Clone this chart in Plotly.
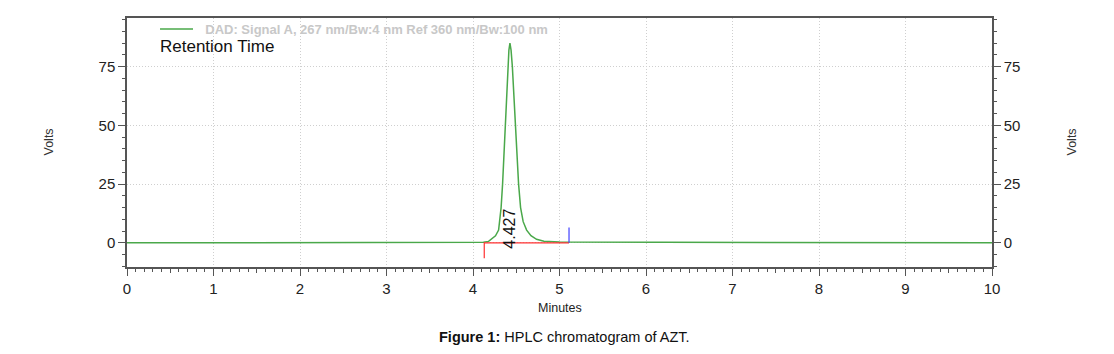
import plotly.graph_objects as go

# ---- data ----
time_min = [0.0, 1.5, 2.1, 4.0, 4.12, 4.18, 4.215, 4.26, 4.296, 4.31, 4.325, 4.342, 4.358,
            4.374, 4.393, 4.404, 4.415, 4.427, 4.44, 4.455, 4.469, 4.489, 4.507, 4.527,
            4.55, 4.58, 4.62, 4.67, 4.735, 4.82, 5.0, 5.3, 5.6, 6.4, 10.0]
signal_volts = [0.0, 0.1, 0.1, 0.0, 0.2, 0.6, 1.5, 3.0, 5.4, 9.0, 15.0, 25.0, 37.0,
                50.0, 65.0, 75.0, 82.0, 85.0, 82.0, 75.0, 65.0, 50.0, 37.0, 25.0,
                15.0, 9.0, 5.4, 3.0, 1.5, 0.7, 0.3, 0.3, 0.1, 0.05, 0.0]

peak_rt = 4.427
peak_label = "4.427"
baseline_start = 4.13
baseline_end = 5.11
start_mark = -6.6
end_mark = 6.5

legend_text = "DAD: Signal A, 267 nm/Bw:4 nm Ref 360 nm/Bw:100 nm"
x_ticks = list(range(0, 11))
y_ticks = [0, 25, 50, 75]
x_range = [0, 10]
y_range = [-10.3, 95.7]

FONT = "Liberation Sans, Arial, sans-serif"
AXC = "#555555"
GRID = "#cfcfcf"

fig = go.Figure()

fig.add_trace(go.Scatter(
    x=time_min, y=signal_volts, mode="lines",
    name="&nbsp;&nbsp;" + legend_text,
    line=dict(color="#4aa84a", width=1.5), showlegend=True))

# integration baseline (red) and end marker (blue)
fig.add_trace(go.Scatter(
    x=[baseline_start, baseline_start, baseline_end], y=[start_mark, 0, 0],
    mode="lines", line=dict(color="#ff3030", width=1.2), showlegend=False))
fig.add_trace(go.Scatter(
    x=[baseline_end, baseline_end], y=[0, end_mark],
    mode="lines", line=dict(color="#4040ff", width=1.2), showlegend=False))

# half-unit medium ticks via overlay axis
fig.add_trace(go.Scatter(x=[0, 10], y=[0, 0], xaxis="x2", mode="lines",
                         line=dict(width=0), hoverinfo="skip", showlegend=False))
# right axis
fig.add_trace(go.Scatter(x=[0, 10], y=[0, 0], yaxis="y2", mode="lines",
                         line=dict(width=0), hoverinfo="skip", showlegend=False))

fig.add_annotation(x=peak_rt, y=6.0, xref="x", yref="y", text=peak_label,
                   textangle=-90, showarrow=False,
                   font=dict(family=FONT, size=16, color="#111111"))

fig.add_annotation(x=0, y=1, xref="paper", yref="paper", text="Retention Time",
                   xanchor="left", yanchor="middle", xshift=31, yshift=-28,
                   showarrow=False, font=dict(family=FONT, size=17, color="#111111"))

fig.add_annotation(x=0, y=0.5, xref="paper", yref="paper", text="Volts",
                   textangle=-90, xanchor="center", yanchor="middle", xshift=-79,
                   showarrow=False, font=dict(family=FONT, size=12.5, color="#333333"))
fig.add_annotation(x=1, y=0.5, xref="paper", yref="paper", text="Volts",
                   textangle=-90, xanchor="center", yanchor="middle", xshift=79,
                   showarrow=False, font=dict(family=FONT, size=12.5, color="#333333"))
fig.add_annotation(x=0.5, y=0, xref="paper", yref="paper", text="Minutes",
                   xanchor="center", yanchor="middle", yshift=-41,
                   showarrow=False, font=dict(family=FONT, size=12.5, color="#222222"))
fig.add_annotation(x=0.506, y=0, xref="paper", yref="paper",
                   text="<b>Figure 1:</b> HPLC chromatogram of AZT.",
                   xanchor="center", yanchor="middle", yshift=-70,
                   showarrow=False, font=dict(family=FONT, size=14.5, color="#111111"))

fig.update_layout(
    width=1098, height=338,
    margin=dict(l=119, r=114, t=10, b=79, autoexpand=False),
    paper_bgcolor="white", plot_bgcolor="white",
    font=dict(family=FONT, size=15, color="#333333"),
    showlegend=True,
    legend=dict(x=0.0324, y=0.956, xanchor="left", yanchor="middle", xref="paper", yref="paper",
                bgcolor="rgba(0,0,0,0)", borderwidth=0,
                font=dict(family=FONT, size=13, color="#c8c8c8", weight="bold"),
                itemwidth=33, tracegroupgap=0),
    xaxis=dict(range=x_range, tickvals=x_ticks, ticktext=[str(t) for t in x_ticks],
               ticks="outside", ticklen=7, tickcolor=AXC, tickwidth=1.2,
               showline=True, linecolor=AXC, linewidth=1.5, mirror=True,
               showgrid=True, gridcolor=GRID, griddash="1px,2px", gridwidth=1,
               zeroline=False,
               minor=dict(dtick=0.1, ticks="outside", ticklen=3, tickcolor=AXC, showgrid=False),
               tickfont=dict(size=15, color="#222222")),
    xaxis2=dict(overlaying="x", range=x_range, tickvals=[i + 0.5 for i in range(10)],
                ticks="outside", ticklen=5, tickcolor=AXC, tickwidth=1,
                showticklabels=False, showgrid=False, showline=False, zeroline=False,
                side="bottom", anchor="y"),
    yaxis=dict(range=y_range, tickvals=y_ticks, ticks="outside", ticklen=7,
               tickcolor=AXC, tickwidth=1.2, showline=True, linecolor=AXC, linewidth=1.5,
               showgrid=True, gridcolor=GRID, griddash="1px,2px", gridwidth=1,
               zeroline=False,
               minor=dict(dtick=5, tick0=0, ticks="outside", ticklen=3, tickcolor=AXC, showgrid=False),
               tickfont=dict(size=15, color="#222222")),
    yaxis2=dict(overlaying="y", side="right", range=y_range, tickvals=y_ticks,
                ticks="outside", ticklen=7, tickcolor=AXC, tickwidth=1.2,
                showline=True, linecolor=AXC, linewidth=1.5, showgrid=False, zeroline=False,
                minor=dict(dtick=5, tick0=0, ticks="outside", ticklen=3, tickcolor=AXC),
                tickfont=dict(size=15, color="#222222")),
)

fig.write_html("out.html")
